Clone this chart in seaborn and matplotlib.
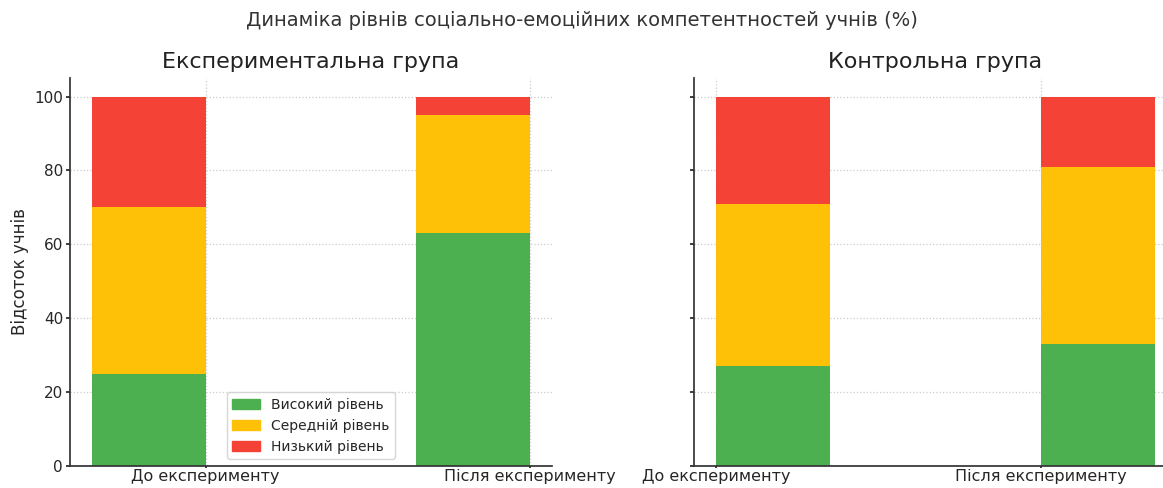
import matplotlib
matplotlib.use("Agg")
import matplotlib.pyplot as plt
import matplotlib.patches as mpatches
import pandas as pd
import seaborn as sns

# data
stages = ["До експерименту", "Після експерименту"]
groups = ["Експериментальна група", "Контрольна група"]
levels = ["Високий рівень", "Середній рівень", "Низький рівень"]

exp_high = [25, 63]
exp_mid = [45, 32]
exp_low = [30, 5]

ctrl_high = [27, 33]
ctrl_mid = [44, 48]
ctrl_low = [29, 19]

colors = ["#4CAF50", "#FFC107", "#F44336"]

sns.set_theme(style="ticks")
plt.rcParams["font.family"] = ["DejaVu Sans"]

fig = plt.figure(figsize=(11.63, 4.88), dpi=100)
ax1 = fig.add_axes([0.0602, 0.045, 0.4144, 0.795])
ax2 = fig.add_axes([0.5967, 0.045, 0.4153, 0.795], sharey=ax1)

width = 0.35


def stacked(ax, high, mid, low, shift, title):
    pos = [i + shift for i in range(len(stages))]
    df = pd.DataFrame({"pos": pos, "high": high, "mid": mid, "low": low})
    df["mid_top"] = df["high"] + df["mid"]
    df["low_top"] = df["mid_top"] + df["low"]
    # draw cumulative layers from the top down so they stack visually
    for col, c in [("low_top", colors[2]), ("mid_top", colors[1]), ("high", colors[0])]:
        sns.barplot(data=df, x="pos", y=col, native_scale=True, width=width,
                    color=c, saturation=1, ax=ax, errorbar=None, linewidth=0)
    ax.set_xticks(range(len(stages)))
    ax.set_xticklabels(stages)
    ax.set_xlim(min(pos) - width / 2 - 0.0675, max(pos) + width / 2 + 0.0675)
    ax.set_ylim(0, 105)
    ax.set_title(title, fontsize=16, pad=7, color="#222222")
    ax.set_xlabel("")
    ax.set_ylabel("")
    ax.grid(True, linestyle=":", color="#cccccc", linewidth=0.9)
    ax.set_axisbelow(True)
    for s in ["top", "right"]:
        ax.spines[s].set_visible(False)
    for s in ["left", "bottom"]:
        ax.spines[s].set_color("#333333")
    ax.tick_params(axis="y", length=3, pad=2, labelsize=11)
    ax.tick_params(axis="x", length=1.5, pad=0.5, labelsize=11.5)


stacked(ax1, exp_high, exp_mid, exp_low, -width / 2, groups[0])
stacked(ax2, ctrl_high, ctrl_mid, ctrl_low, width / 2, groups[1])

ax1.set_yticks([0, 20, 40, 60, 80, 100])
ax1.set_ylabel("Відсоток учнів", fontsize=12)
ax2.tick_params(axis="y", labelleft=False)

handles = [mpatches.Patch(color=c, label=l) for c, l in zip(colors, levels)]
ax1.legend(handles=handles, loc="lower center", fontsize=10, frameon=True)

fig.suptitle("Динаміка рівнів соціально-емоційних компетентностей учнів (%)",
             fontsize=14, y=0.978, va="top", color="#333333")

fig.savefig("out.png", dpi=100)
